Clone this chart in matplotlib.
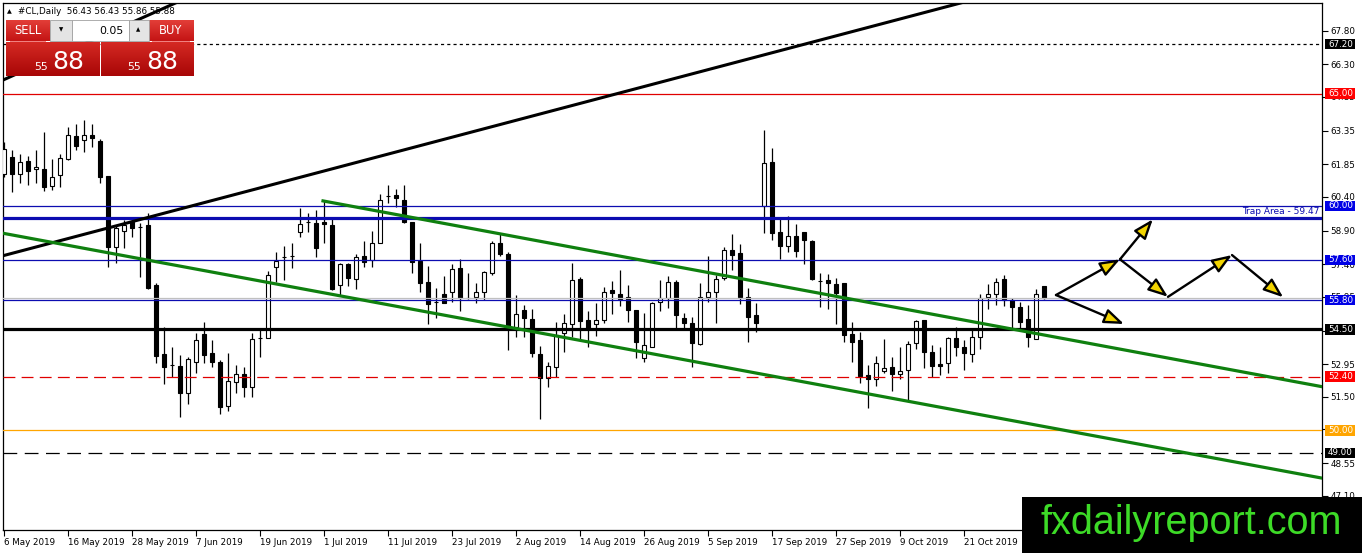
import numpy as np
import matplotlib
matplotlib.use("Agg")
import matplotlib.pyplot as plt
from matplotlib.patches import Rectangle
from matplotlib.transforms import blended_transform_factory
from matplotlib.colors import LinearSegmentedColormap

# daily OHLC for #CL, 6 May 2019 .. early Nov 2019
opens = [61.41, 62.16, 61.44, 61.99, 61.62, 61.62, 60.88, 61.36, 62.07, 63.11,
         62.93, 63.15, 62.88, 61.33, 58.18, 58.89, 59.26, 59.07, 59.15, 56.47,
         53.40, 52.91, 52.87, 51.65, 53.06, 54.29, 53.43, 53.06, 51.09, 52.17,
         52.51, 51.92, 54.10, 54.10, 57.26, 57.74, 57.78, 58.85, 59.26, 59.22,
         59.26, 59.15, 56.46, 57.41, 56.73, 57.77, 57.59, 58.36, 60.44, 60.48,
         60.26, 59.29, 57.56, 56.59, 55.73, 56.07, 56.18, 57.22, 55.88, 55.93,
         56.18, 57.02, 58.33, 57.85, 54.59, 55.36, 54.96, 53.39, 52.32, 52.84,
         54.32, 54.74, 56.74, 54.92, 54.74, 54.92, 56.25, 56.07, 55.93, 55.36,
         53.21, 53.73, 55.70, 55.88, 56.59, 54.99, 54.77, 53.85, 55.93, 56.18,
         56.77, 58.03, 57.88, 55.93, 55.14, 59.99, 61.95, 58.82, 58.21, 58.66,
         58.82, 58.43, 56.67, 56.70, 56.52, 56.55, 54.28, 54.03, 52.45, 52.28,
         52.66, 52.81, 52.51, 52.69, 53.88, 54.92, 53.51, 52.96, 52.99, 54.10,
         53.70, 53.40, 54.18, 55.93, 56.07, 56.73, 55.81, 55.48, 54.95, 54.07,
         56.43]
highs = [62.85, 62.48, 62.33, 62.22, 62.48, 63.30, 62.07, 62.33, 63.49, 63.64,
         63.82, 63.64, 62.96, 61.33, 59.15, 59.37, 59.52, 59.22, 59.66, 56.58,
         54.59, 53.73, 53.36, 53.29, 54.32, 54.84, 54.03, 53.14, 53.43, 52.91,
         52.84, 54.32, 54.47, 57.11, 57.96, 58.21, 58.33, 59.89, 59.69, 59.81,
         60.26, 59.44, 57.47, 57.47, 57.85, 58.45, 58.89, 60.52, 60.93, 60.73,
         60.93, 59.29, 58.36, 57.34, 56.33, 56.88, 57.41, 57.62, 56.99, 56.58,
         57.11, 58.45, 58.80, 57.96, 56.03, 55.59, 55.39, 53.76, 53.06, 54.84,
         55.18, 57.47, 56.85, 55.33, 55.69, 56.37, 56.65, 57.14, 56.47, 55.36,
         55.21, 55.73, 56.70, 56.88, 56.70, 55.24, 55.07, 56.58, 57.77, 56.92,
         58.18, 58.74, 58.30, 56.36, 55.69, 63.37, 62.56, 59.44, 59.55, 59.19,
         58.82, 58.48, 57.02, 56.95, 56.77, 56.58, 54.84, 54.40, 52.91, 53.32,
         54.07, 53.29, 53.70, 54.00, 54.92, 54.92, 53.81, 53.70, 54.15, 54.59,
         54.03, 54.58, 56.07, 56.52, 56.77, 56.92, 55.88, 55.73, 55.59, 56.28,
         56.43]
lows = [61.30, 60.63, 61.03, 60.93, 61.00, 60.67, 60.70, 60.82, 62.05, 62.48,
        62.41, 62.63, 61.00, 57.29, 57.47, 58.11, 58.63, 56.85, 56.28, 52.99,
        52.07, 52.40, 50.59, 51.18, 52.57, 52.99, 52.84, 50.73, 50.88, 51.68,
        51.51, 51.48, 53.26, 54.10, 56.62, 56.70, 57.22, 58.63, 58.85, 57.74,
        58.33, 56.25, 56.03, 56.43, 56.28, 57.29, 57.29, 58.33, 60.11, 59.96,
        59.25, 57.02, 56.18, 54.74, 54.99, 55.66, 55.73, 55.33, 55.84, 55.66,
        55.81, 56.92, 57.77, 53.58, 54.15, 54.18, 53.29, 50.50, 51.92, 52.37,
        53.51, 54.18, 54.03, 53.73, 54.21, 54.80, 55.18, 55.54, 54.84, 53.21,
        53.06, 53.70, 55.33, 55.44, 54.55, 54.47, 52.81, 53.81, 55.73, 54.80,
        56.70, 57.14, 55.63, 53.95, 54.40, 58.77, 58.48, 57.63, 57.96, 57.74,
        57.39, 56.70, 55.51, 55.39, 54.74, 53.92, 53.03, 52.13, 50.99, 52.00,
        52.57, 51.77, 52.28, 51.36, 53.61, 52.77, 52.37, 52.47, 52.57, 53.32,
        52.69, 53.06, 53.61, 55.39, 55.59, 55.54, 54.55, 54.47, 53.70, 54.06,
        55.86]
closes = [62.51, 61.44, 61.96, 61.56, 61.71, 60.82, 61.30, 62.11, 63.15, 62.66,
          63.15, 63.00, 61.30, 58.15, 59.03, 59.15, 59.03, 59.07, 56.33, 53.32,
          52.84, 52.91, 51.68, 53.17, 54.03, 53.36, 53.03, 51.06, 52.20, 52.51,
          51.92, 54.06, 54.10, 56.92, 57.56, 57.74, 57.78, 59.19, 59.26, 58.14,
          59.17, 56.28, 57.41, 56.77, 57.71, 57.51, 58.33, 60.26, 60.44, 60.36,
          59.29, 57.48, 56.55, 55.63, 55.73, 55.66, 57.17, 55.88, 55.88, 56.15,
          57.04, 58.33, 57.85, 54.59, 55.17, 54.99, 53.43, 52.32, 52.89, 54.25,
          54.77, 56.70, 54.89, 54.55, 54.92, 56.15, 56.13, 55.84, 55.36, 53.95,
          53.81, 55.69, 55.88, 56.59, 55.14, 54.77, 53.91, 55.96, 56.15, 56.74,
          58.03, 57.81, 55.96, 55.07, 54.80, 61.89, 58.77, 58.23, 58.66, 58.00,
          58.48, 56.74, 56.67, 56.55, 56.13, 54.25, 53.95, 52.43, 52.28, 52.99,
          52.77, 52.51, 52.65, 53.83, 54.87, 53.48, 52.89, 52.87, 54.10, 53.70,
          53.43, 54.18, 55.88, 56.06, 56.62, 55.81, 55.51, 54.84, 54.15, 56.06,
          55.88]

date_labels = ["6 May 2019", "16 May 2019", "28 May 2019", "7 Jun 2019",
               "19 Jun 2019", "1 Jul 2019", "11 Jul 2019", "23 Jul 2019",
               "2 Aug 2019", "14 Aug 2019", "26 Aug 2019", "5 Sep 2019",
               "17 Sep 2019", "27 Sep 2019", "9 Oct 2019", "21 Oct 2019"]
price_ticks = [67.80, 66.30, 64.85, 63.35, 61.85, 60.40, 58.90, 57.40, 55.95,
               54.45, 52.95, 51.50, 50.05, 48.55, 47.10]

# horizontal levels: price, colour, width, style, label box colour
level_prices = [67.20, 65.00, 60.00, 59.47, 57.60, 55.80, 54.50, 52.40, 50.00, 49.00]
level_colors = ["black", "#e00000", "#0c0cb0", "#0c0cb0", "#0c0cb0", "#0c0cb0",
                "black", "#e00000", "#ffa500", "black"]
level_widths = [0.9, 0.9, 0.9, 2.3, 0.9, 0.9, 2.3, 0.9, 0.9, 0.9]
level_styles = [(0, (2.5, 2.5)), "-", "-", "-", "-", "-", "-", (0, (9.5, 5)), "-", (0, (11, 6))]
level_boxes = ["black", "#ff0000", "#0000e6", None, "#0000e6", "#0000e6",
               "black", "#ff0000", "#ffa500", "black"]

W, H = 1362, 553
def fx(x):
    return x / W
def fy(y):
    return 1 - y / H

fig = plt.figure(figsize=(W / 100, H / 100), dpi=100)
fig.patch.set_facecolor("white")
ax = fig.add_axes([fx(3), fy(530), (1322 - 3) / W, (530 - 3) / H])
ax.set_xlim(-0.125, 164.75)
ax.set_ylim(45.57, 69.03)

o = np.array(opens); h = np.array(highs); l = np.array(lows); c = np.array(closes)
idx = np.arange(len(o))
up = c >= o
ax.vlines(idx, l, h, color="black", lw=0.9, zorder=3)
bot = np.minimum(o, c)
hgt = np.abs(c - o)
ax.bar(idx[up], hgt[up], bottom=bot[up], width=0.62, facecolor="white",
       edgecolor="black", lw=0.8, zorder=4)
ax.bar(idx[~up], hgt[~up], bottom=bot[~up], width=0.62, facecolor="black",
       edgecolor="black", lw=0.8, zorder=4)

# bid line
ax.axhline(closes[-1], color="#c0c0c0", lw=0.9, zorder=4.5)
for p, col, lw, ls in zip(level_prices, level_colors, level_widths, level_styles):
    ax.axhline(p, color=col, lw=lw, ls=ls, zorder=5)

# trend lines
ax.plot([-0.125, 125.0], [57.78, 69.54], color="black", lw=2.2, zorder=5)
ax.plot([-0.125, 22.0], [65.60, 69.12], color="black", lw=2.2, zorder=5)
ax.plot([39.875, 164.75], [60.22, 51.95], color="#0f800f", lw=2.3, zorder=5)
ax.plot([-0.125, 164.75], [58.78, 47.88], color="#0f800f", lw=2.3, zorder=5)

trans = blended_transform_factory(ax.transAxes, ax.transData)
ax.annotate("Trap Area - 59.47", xy=(1.0, 59.47), xycoords=trans,
            xytext=(-2, 1.5), textcoords="offset points", ha="right", va="bottom",
            fontsize=6.5, color="#0c0cb0", zorder=6)

# scenario arrows
A = (131.5, 56.03); J1 = (139.5, 57.62); T2 = (143.6, 59.40); J2 = (145.5, 55.95)
J3 = (153.5, 57.81); T5 = (159.9, 55.93); T6 = (140.0, 54.74)
for s, e in [(A, J1), (J1, T2), (J1, J2), (J2, J3), (J3, T5), (A, T6)]:
    ax.annotate("", xy=e, xytext=s,
                arrowprops=dict(arrowstyle="-|>,head_length=1.2,head_width=0.45",
                                fc="#f2d400", ec="black", lw=1.7,
                                mutation_scale=10, shrinkA=0, shrinkB=0),
                zorder=7)

# axes styling
for sp in ax.spines.values():
    sp.set_color("black")
    sp.set_linewidth(0.9)
ax.yaxis.tick_right()
ax.set_yticks(price_ticks)
ax.set_yticklabels(["%.2f" % v for v in price_ticks])
ax.tick_params(axis="y", length=4, width=0.8, labelsize=6.3, pad=2)
ax.set_xticks(np.arange(0, 121, 8))
ax.set_xticklabels(date_labels)
ax.tick_params(axis="x", length=4, width=0.8, labelsize=6.3, pad=2)
for t in ax.get_xticklabels():
    t.set_horizontalalignment("left")

# price label boxes on the right scale
bw = 30 / 1319
bh = 10.5 / 22.47
for p, fc in zip(level_prices, level_boxes):
    if fc is None:
        continue
    ax.add_patch(Rectangle((1.0023, p - bh / 2), bw, bh, transform=trans,
                           facecolor=fc, edgecolor="none", clip_on=False, zorder=10))
    ax.text(1.0023 + 0.0022, p, "%.2f" % p, transform=trans, fontsize=6.3,
            color="white", va="center", ha="left", clip_on=False, zorder=11)

# header
fig.text(fx(9.5), fy(11.5), "\u25b2", fontsize=4.5, ha="center", va="center")
fig.text(fx(18), fy(11.5), "#CL,Daily  %.2f %.2f %.2f %.2f" % (opens[-1], highs[-1], lows[-1], closes[-1]),
         fontsize=6.3, ha="left", va="center")

# one-click trading panel
def grad_box(x0, y0, x1, y1, top, bottom):
    a = fig.add_axes([fx(x0), fy(y1), (x1 - x0) / W, (y1 - y0) / H])
    cm = LinearSegmentedColormap.from_list("g", [top, bottom])
    a.imshow(np.linspace(0, 1, 64).reshape(-1, 1), aspect="auto", cmap=cm,
             extent=[0, 1, 0, 1])
    a.set_axis_off()
    return a

grad_box(6, 20, 50, 41.5, "#e4403a", "#c41414")
grad_box(148.5, 20, 193, 41.5, "#e4403a", "#c41414")
grad_box(6, 41.5, 99.5, 76, "#d62a24", "#a80606")
grad_box(100.8, 41.5, 193, 76, "#d62a24", "#a80606")
for x0, x1, fc in [(50, 71.5, "#e4e4e4"), (71.5, 128.5, "white"), (128.5, 148.5, "#e4e4e4")]:
    fig.add_artist(Rectangle((fx(x0), fy(40.5)), (x1 - x0) / W, 20.5 / H,
                             transform=fig.transFigure, facecolor=fc,
                             edgecolor="#a0a0a0", lw=0.6))
fig.add_artist(Rectangle((fx(10), fy(42)), 36 / W, 0.8 / H, transform=fig.transFigure,
                         facecolor="#f08080", edgecolor="none"))
fig.add_artist(Rectangle((fx(152), fy(42)), 38 / W, 0.8 / H, transform=fig.transFigure,
                         facecolor="#f08080", edgecolor="none"))
fig.text(fx(28), fy(31), "SELL", color="white", fontsize=8.3, ha="center", va="center")
fig.text(fx(171), fy(31), "BUY", color="white", fontsize=8.3, ha="center", va="center")
fig.text(fx(61), fy(30), "\u25bc", fontsize=4, ha="center", va="center")
fig.text(fx(138.5), fy(30), "\u25b2", fontsize=4, ha="center", va="center")
fig.text(fx(124), fy(30.5), "0.05", fontsize=7.8, ha="right", va="center")
sell_s = "%.2f" % closes[-1]
for xs, xb in [(34.5, 52), (127.5, 146)]:
    fig.text(fx(xs), fy(70.5), sell_s[:2], color="white", fontsize=7.8,
             ha="left", va="baseline")
    fig.text(fx(xb), fy(68.5), sell_s[3:], color="white", fontsize=18,
             ha="left", va="baseline")

# watermark
fig.add_artist(Rectangle((fx(1022), 0), (W - 1022) / W, (H - 497) / H,
                         transform=fig.transFigure, facecolor="black", edgecolor="none"))
fig.text(fx(1191), fy(523), "fxdailyreport.com", color="#3ddb27", fontsize=28.5,
         family="Liberation Sans", ha="center", va="center")

fig.savefig("out.png", dpi=100)
